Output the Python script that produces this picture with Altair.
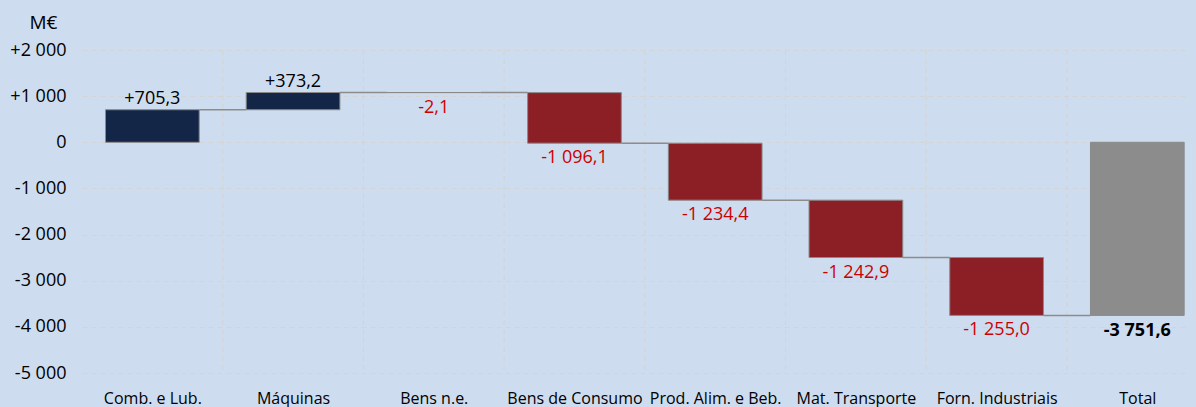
import altair as alt
import pandas as pd
import jinja2

categories = ["Comb. e Lub.", "Máquinas", "Bens n.e.", "Bens de Consumo",
              "Prod. Alim. e Beb.", "Mat. Transporte", "Forn. Industriais", "Total"]
values = [705.3, 373.2, -2.1, -1096.1, -1234.4, -1242.9, -1255.0, -3751.6]
labels = ["+705,3", "+373,2", "-2,1", "-1 096,1", "-1 234,4", "-1 242,9", "-1 255,0", "-3 751,6"]
kinds = ["pos", "pos", "neg", "neg", "neg", "neg", "neg", "total"]
y_ticks = [2000, 1000, 0, -1000, -2000, -3000, -4000, -5000]
y_tick_labels = ["+2 000", "+1 000", "0", "-1 000", "-2 000", "-3 000", "-4 000", "-5 000"]

BG = "#cddcef"
HALF = 0.333
rows = []
cum = 0.0
for i, (c, v, lab, k) in enumerate(zip(categories, values, labels, kinds)):
    if k == "total":
        start, end = 0.0, v
    else:
        start, end = cum, cum + v
        cum = end
    rows.append(dict(idx=i, cat=c, start=start, end=end, label=lab, kind=k,
                     top=max(start, end), bottom=min(start, end)))
df = pd.DataFrame(rows)

conn_df = pd.DataFrame([dict(idx=i, nxt=i + 1, level=rows[i]["end"])
                        for i in range(len(rows) - 1)])
grid_df = pd.DataFrame({"b": [i + 0.5 for i in range(len(categories) - 1)]})

FONT = "Open Sans"
xscale = alt.Scale(domain=[-0.5, 7.346], nice=False, zero=False)
yscale = alt.Scale(domain=[-5000, 2000], nice=False)

label_expr_x = "[" + ",".join("'" + c + "'" for c in categories) + "][datum.value]"
label_expr_y = ("{" + ",".join("'%d':'%s'" % (t, l) for t, l in zip(y_ticks, y_tick_labels)) +
                "}[''+datum.value]")

base = alt.Chart(df)

grid = alt.Chart(grid_df).mark_rule(color="#d4d4d4", strokeDash=[5, 4], strokeWidth=1).encode(
    x=alt.X("b:Q", scale=xscale),
    y=alt.value(0),
    y2=alt.value(323),
)

bars = base.transform_calculate(
    x0="datum.idx - %f" % HALF, x1="datum.idx + %f" % HALF
).mark_bar(stroke="#8a8a8a", strokeWidth=1).encode(
    x=alt.X("x0:Q", scale=xscale,
            axis=alt.Axis(values=list(range(len(categories))), labelExpr=label_expr_x,
                          title=None, grid=False, domain=False, ticks=False,
                          labelFontSize=16, labelFont=FONT, labelColor="#000000",
                          labelPadding=17, labelBaseline="top")),
    x2="x1:Q",
    y=alt.Y("start:Q", scale=yscale,
            axis=alt.Axis(values=y_ticks, labelExpr=label_expr_y, title="M€",
                          titleAngle=0, titleAlign="center", titleBaseline="alphabetic",
                          titleX=-39, titleY=-22, titleFont=FONT, titleFontSize=19,
                          titleFontWeight="normal", titleColor="#000000",
                          grid=True, gridColor="#d4d4d4", gridDash=[5, 4],
                          domain=False, ticks=False, labelFontSize=18, labelFont=FONT,
                          labelColor="#000000", labelPadding=16)),
    y2="end:Q",
    color=alt.Color("kind:N", scale=alt.Scale(domain=["pos", "neg", "total"],
                                               range=["#132647", "#8c1f26", "#8c8c8c"]),
                    legend=None),
)

connectors = alt.Chart(conn_df).transform_calculate(
    x0="datum.idx + %f" % HALF, x1="datum.nxt - %f" % HALF
).mark_rule(color="#8c8c8c", strokeWidth=1.5).encode(
    x=alt.X("x0:Q", scale=xscale),
    x2="x1:Q",
    y=alt.Y("level:Q", scale=yscale),
)

pos_labels = base.transform_filter("datum.kind == 'pos'").mark_text(
    font=FONT, fontSize=18, color="#000000", baseline="alphabetic", dy=-6
).encode(x=alt.X("idx:Q", scale=xscale), y=alt.Y("top:Q", scale=yscale), text="label:N")

neg_labels = base.transform_filter("datum.kind == 'neg'").mark_text(
    font=FONT, fontSize=18, color="#cc0000", baseline="alphabetic", dy=20
).encode(x=alt.X("idx:Q", scale=xscale), y=alt.Y("bottom:Q", scale=yscale), text="label:N")

tot_labels = base.transform_filter("datum.kind == 'total'").mark_text(
    font=FONT, fontSize=18, color="#000000", fontWeight="bold", baseline="alphabetic", dy=21
).encode(x=alt.X("idx:Q", scale=xscale), y=alt.Y("bottom:Q", scale=yscale), text="label:N")

chart = alt.layer(grid, bars, connectors, pos_labels, neg_labels, tot_labels).properties(
    width=1104, height=323,
    autosize=alt.AutoSizeParams(type="none"),
    padding={"left": 74, "top": 42, "right": 0, "bottom": 35},
    background=BG,
).configure_view(stroke=None)

EMB = {"renderer": "svg", "actions": False}
page = chart.to_html(embed_options=EMB)
page = page.replace("<head>", "<head>\n<style>html, body { background-color: %s; }</style>" % BG, 1)
tmpl = jinja2.Template("{% raw %}" + page + "{% endraw %}")
chart.save("out.html", embed_options=EMB, template=tmpl)
